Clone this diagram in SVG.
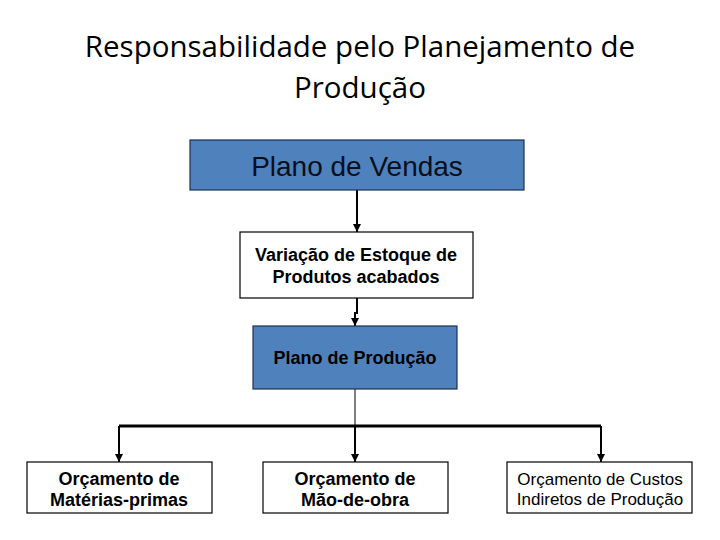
<svg xmlns="http://www.w3.org/2000/svg" width="720" height="540" viewBox="0 0 720 540">
<style>
.title{font-family:"Open Sans","Liberation Sans",sans-serif;font-size:29.5px;fill:#000;text-anchor:middle}
.blue{fill:#4F81BD;stroke:#1F2F4F;stroke-width:1.2}
.white{fill:#fff;stroke:#000;stroke-width:1.2}
.b{font-family:"Liberation Sans",Arial,sans-serif;font-weight:bold;font-size:18px;fill:#000;text-anchor:middle}
.r{font-family:"Liberation Sans",Arial,sans-serif;font-size:17px;fill:#000;text-anchor:middle}
.big{font-family:"Liberation Sans",Arial,sans-serif;font-size:28px;fill:#0a0f1a;text-anchor:middle}
.c{stroke:#000;fill:none}
</style>
<defs>
<marker id="ah" markerWidth="8" markerHeight="8" refX="8" refY="4" orient="auto" markerUnits="userSpaceOnUse" viewBox="0 0 8 8">
<path d="M0,0 L8,4 L0,8 Z" fill="#000"/>
</marker>
</defs>
<rect width="720" height="540" fill="#fff"/>
<g id="title">
<text class="title" x="360" y="57">Responsabilidade pelo Planejamento de</text>
<text class="title" x="360" y="98">Produção</text>
</g>
<g id="connectors">
<path class="c" stroke-width="2" d="M357,190 L357,232" marker-end="url(#ah)"/>
<path class="c" stroke-width="2" d="M357,298 L357,313 L355,313 L355,326" marker-end="url(#ah)"/>
<path class="c" stroke-width="1" d="M355,389 L355,426"/>
<path class="c" stroke-width="3" d="M119,426 L601,426"/>
<path class="c" stroke-width="2" d="M119,426 L119,462" marker-end="url(#ah)"/>
<path class="c" stroke-width="2" d="M355,426 L355,462" marker-end="url(#ah)"/>
<path class="c" stroke-width="2" d="M601,426 L601,462" marker-end="url(#ah)"/>
</g>
<g id="n1">
<rect class="blue" x="190" y="140" width="334" height="50"/>
<text class="big" x="357" y="176">Plano de Vendas</text>
</g>
<g id="n2">
<rect class="white" x="240" y="232" width="233" height="66"/>
<text class="b" x="356" y="261">Variação de Estoque de</text>
<text class="b" x="356" y="283">Produtos acabados</text>
</g>
<g id="n3">
<rect class="blue" x="253" y="326" width="204" height="63"/>
<text class="b" x="355" y="364">Plano de Produção</text>
</g>
<g id="n4">
<rect class="white" x="27" y="462" width="185" height="51"/>
<text class="b" x="119" y="485">Orçamento de</text>
<text class="b" x="119" y="506">Matérias-primas</text>
</g>
<g id="n5">
<rect class="white" x="263" y="462" width="185" height="51"/>
<text class="b" x="355" y="485">Orçamento de</text>
<text class="b" x="355" y="506">Mão-de-obra</text>
</g>
<g id="n6">
<rect class="white" x="507" y="462" width="185" height="51"/>
<text class="r" x="600" y="485">Orçamento de Custos</text>
<text class="r" x="600" y="505">Indiretos de Produção</text>
</g>
</svg>
